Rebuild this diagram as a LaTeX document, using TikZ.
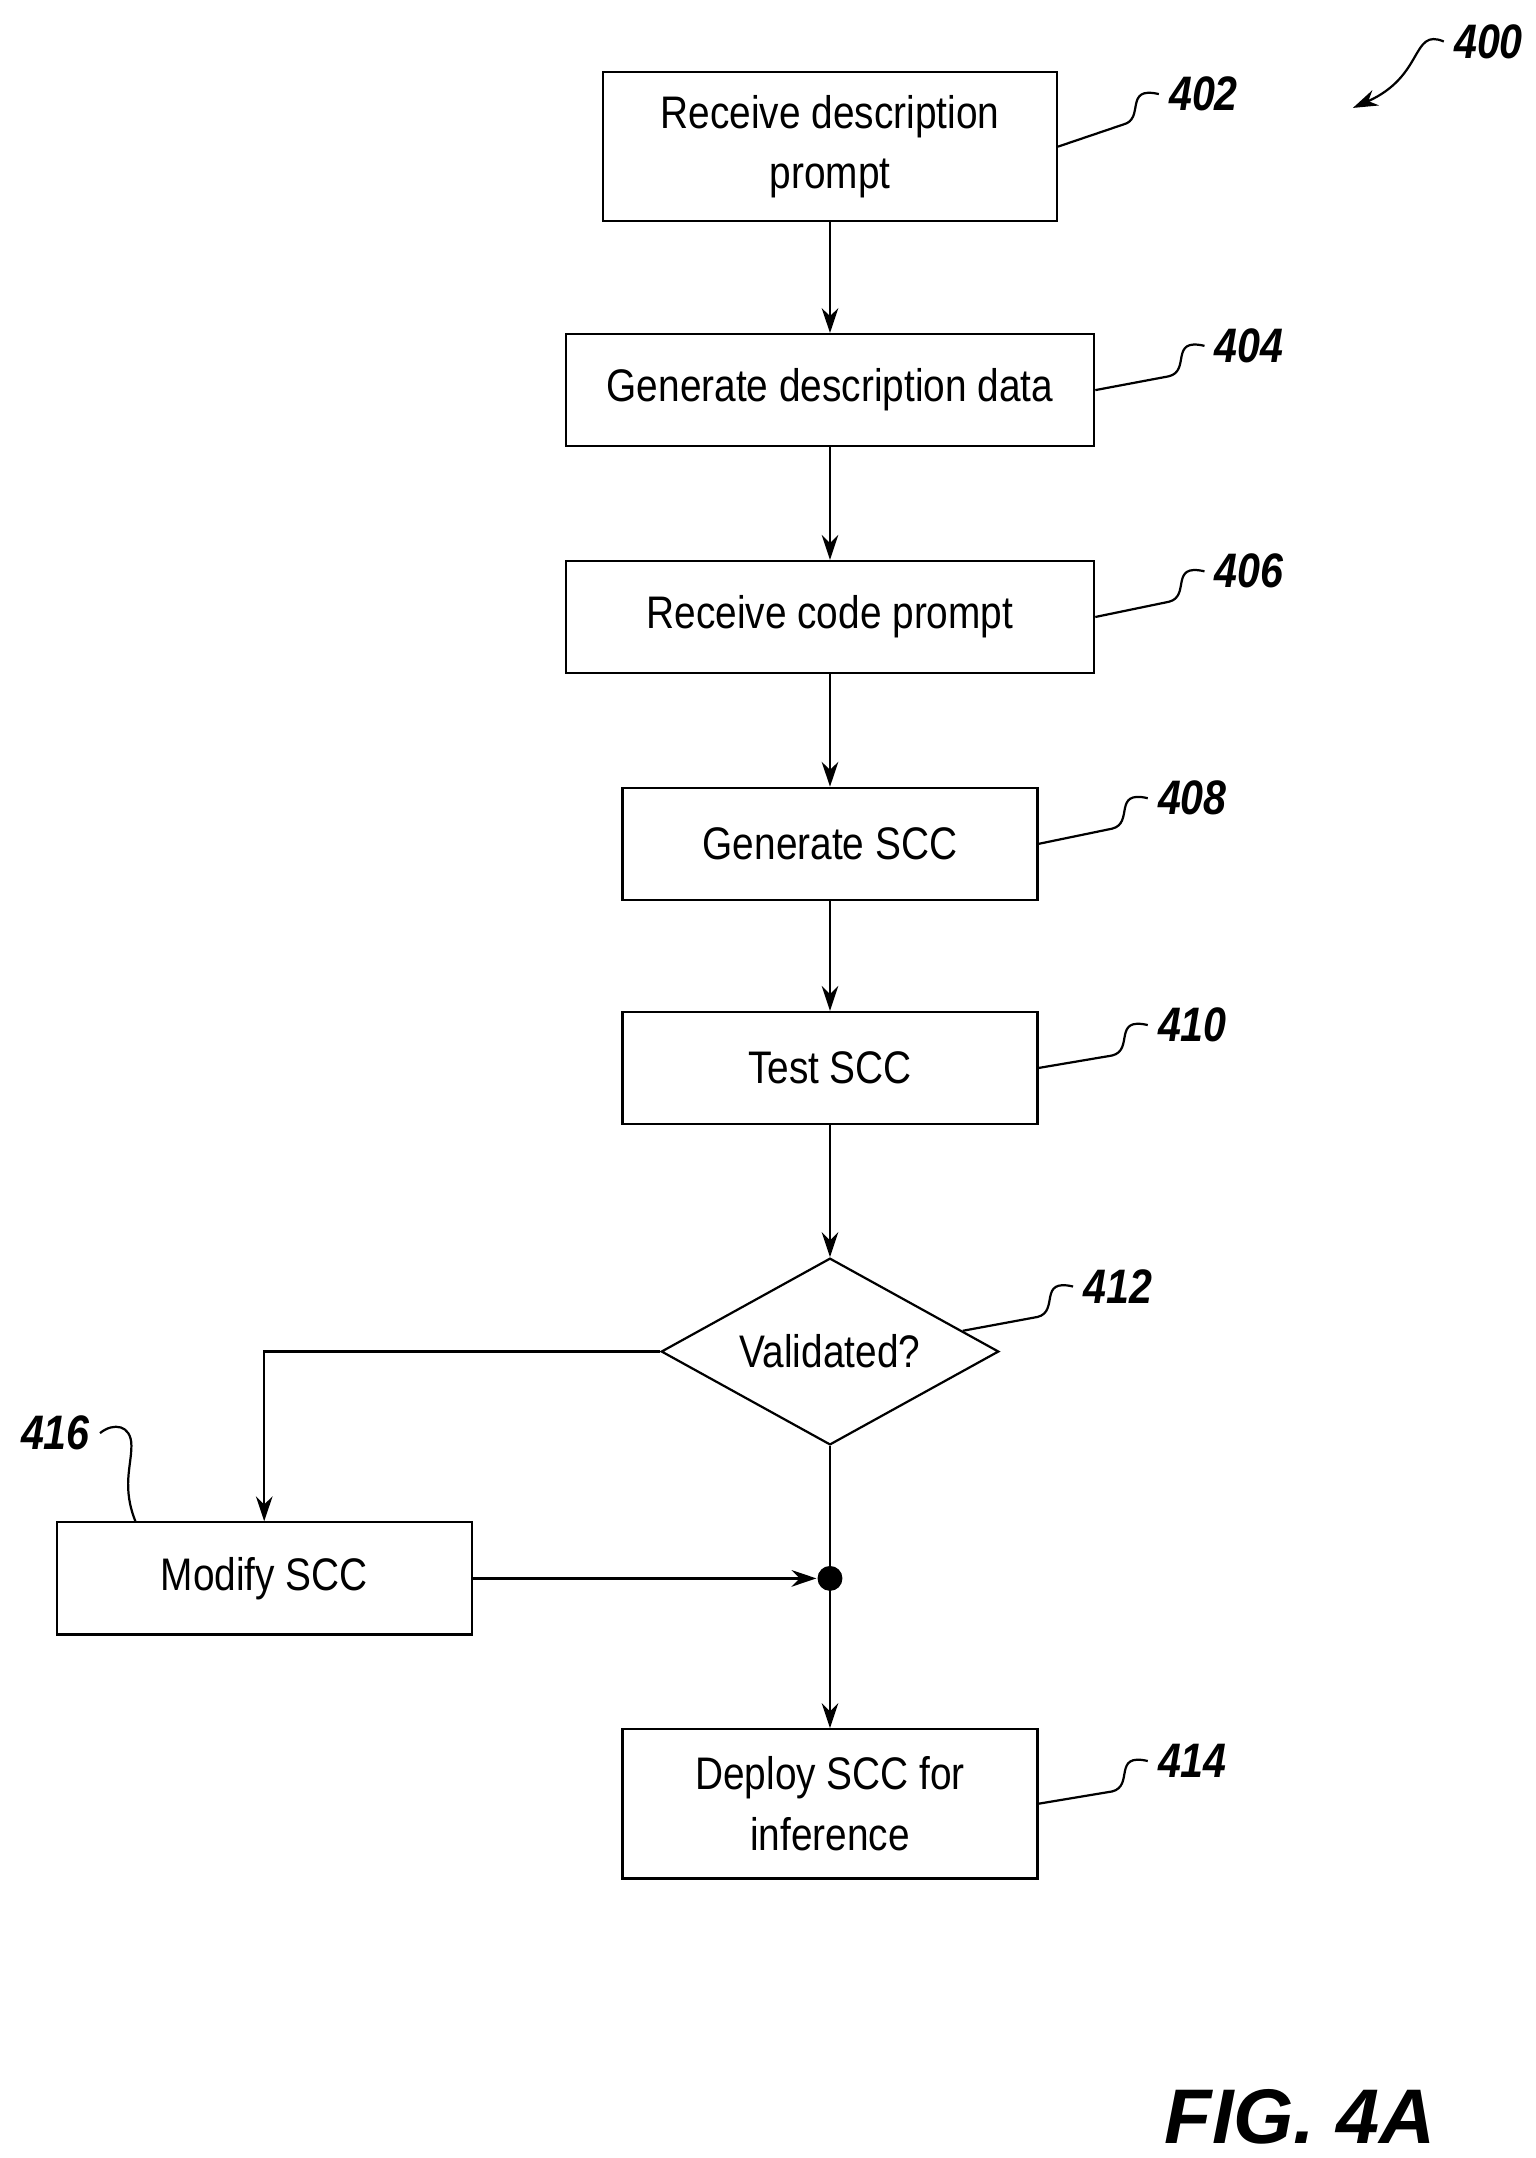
\documentclass[tikz,border=0pt]{standalone}
\usepackage{fontspec}
\setmainfont{Liberation Sans}
\newfontfamily\boxfont[FakeStretch=0.85]{Liberation Sans}
\usetikzlibrary{arrows.meta,shapes.geometric}

\begin{document}
\begin{tikzpicture}[x=0.5pt,y=-0.5pt,>={Stealth[length=9pt,width=6pt]},
        line width=0.8pt,
        step node/.style={rectangle,draw,align=center,inner sep=0pt,font=\boxfont\fontsize{16.5}{22}\selectfont},
        test node/.style={diamond,draw,aspect=1.8,inner sep=0pt,font=\boxfont\fontsize{16.5}{22}\selectfont},
        ref label/.style={font=\bfseries\itshape\boxfont\fontsize{17.5}{20}\selectfont}]
        \useasboundingbox (0,0) rectangle (1110,1560);
        \node[step node,minimum width=164pt,minimum height=54pt] (402) at (600,106) {Receive description\\prompt};
        \node[step node,minimum width=191pt,minimum height=40.5pt] (404) at (600,282) {Generate description data};
        \node[step node,minimum width=191pt,minimum height=40.5pt] (406) at (600,446) {Receive code prompt};
        \node[step node,minimum width=150pt,minimum height=40.5pt] (408) at (600,610) {Generate SCC};
        \node[step node,minimum width=150pt,minimum height=40.5pt] (410) at (600,772) {Test SCC};
        \node[test node,minimum width=122pt,minimum height=67.5pt] (412) at (600,977) {Validated?};
        \node[step node,minimum width=150pt,minimum height=40.5pt] (416) at (191,1141) {Modify SCC};
        \node[step node,minimum width=150pt,minimum height=54pt] (414) at (600,1304) {Deploy SCC for\\inference};
        \node[circle,fill,inner sep=0pt,minimum size=9pt] (join) at (600,1141) {};
        \coordinate (bend) at (191,977);
        % flow
        \draw[->] (402) -- (404);
        \draw[->] (404) -- (406);
        \draw[->] (406) -- (408);
        \draw[->] (408) -- (410);
        \draw[->] (410) -- (412);
        \draw[->] (412.west) -- (bend) -- (416.north);
        \draw[->] (416.east) -- (join);
        \draw[->] (412.south) -- (414.north);
        % reference labels
        \node[ref label] (l402) at (870,68) {402};
        \node[ref label] (l404) at (903,250) {404};
        \node[ref label] (l406) at (903,413) {406};
        \node[ref label] (l408) at (862,577) {408};
        \node[ref label] (l410) at (862,741) {410};
        \node[ref label] (l412) at (808,930) {412};
        \node[ref label] (l414) at (862,1273) {414};
        \node[ref label] (l416) at (40,1036) {416};
        \node[ref label] (l400) at (1076,30) {400};
        \draw (402.east) -- (812,90) .. controls (828,86) and (812,62) .. (l402.west);
        \draw (404.east) -- (845,272) .. controls (861,268) and (845,244) .. (l404.west);
        \draw (406.east) -- (845,435) .. controls (861,431) and (845,407) .. (l406.west);
        \draw (408.east) -- (804,599) .. controls (820,595) and (804,571) .. (l408.west);
        \draw (410.east) -- (804,763) .. controls (820,759) and (804,735) .. (l410.west);
        \draw (696,962) -- (750,952) .. controls (766,948) and (750,924) .. (l412.west);
        \draw (750,1304) -- (804,1295) .. controls (820,1291) and (804,1267) .. (l414.west);
        \draw (98,1100) .. controls (88,1075) and (95,1060) .. (95,1045) .. controls (95,1030) and (82,1028) .. (l416.east);
        \draw[->] (l400.west) .. controls (1020,20) and (1030,55) .. (978,78);
        \node[font=\bfseries\itshape\fontsize{28}{30}\selectfont] (fig) at (940,1530) {FIG. 4A};
\end{tikzpicture}
\end{document}
